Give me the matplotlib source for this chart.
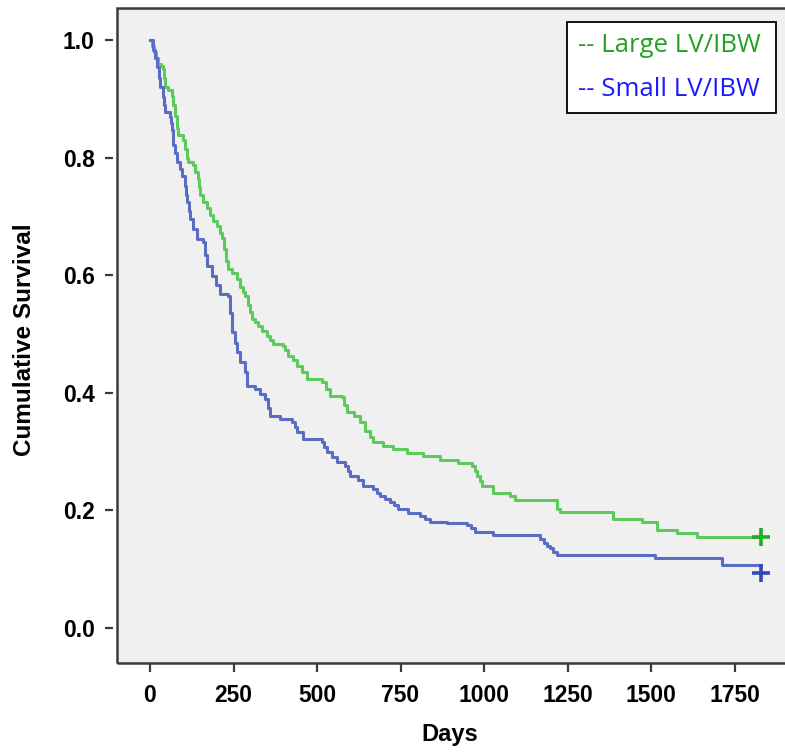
import matplotlib
matplotlib.use("Agg")
import matplotlib.pyplot as plt
from matplotlib.patches import Rectangle

# ---- data ----
large_days = [0, 5, 12, 18, 24, 32, 39, 42, 45, 55, 66, 69, 75, 80, 84, 99, 104, 110, 114,
              129, 135, 144, 147, 150, 160, 170, 180, 189, 201, 210, 216, 222, 228, 234,
              245, 260, 270, 278, 284, 292, 298, 305, 315, 323, 335, 350, 360, 368, 398,
              405, 413, 428, 440, 455, 470, 515, 527, 539, 575, 582, 590, 610, 629, 645,
              660, 668, 698, 728, 769, 817, 868, 922, 964, 972, 979, 987, 994, 1027, 1078,
              1093, 1219, 1228, 1386, 1473, 1518, 1578, 1638, 1829]
large_surv = [1.0, 0.99, 0.98, 0.97, 0.96, 0.955, 0.95, 0.935, 0.92, 0.915, 0.905, 0.89,
              0.87, 0.85, 0.838, 0.83, 0.815, 0.80, 0.793, 0.787, 0.775, 0.763, 0.75, 0.737,
              0.725, 0.714, 0.703, 0.692, 0.683, 0.672, 0.664, 0.645, 0.625, 0.61, 0.603,
              0.593, 0.58, 0.572, 0.564, 0.55, 0.537, 0.525, 0.52, 0.514, 0.505, 0.497,
              0.49, 0.483, 0.48, 0.472, 0.463, 0.455, 0.446, 0.435, 0.424, 0.419, 0.407,
              0.395, 0.393, 0.38, 0.368, 0.36, 0.351, 0.335, 0.325, 0.317, 0.31, 0.305,
              0.298, 0.292, 0.285, 0.280, 0.275, 0.267, 0.259, 0.25, 0.242, 0.229, 0.224,
              0.217, 0.203, 0.198, 0.185, 0.180, 0.166, 0.161, 0.154, 0.154]

small_days = [0, 9, 15, 21, 27, 30, 39, 42, 45, 60, 63, 66, 69, 75, 81, 90, 96, 105, 108,
              111, 116, 120, 130, 141, 159, 165, 171, 186, 198, 210, 234, 240, 246, 253,
              260, 270, 284, 290, 314, 330, 344, 352, 359, 389, 425, 433, 440, 458, 515,
              522, 530, 545, 560, 584, 592, 599, 623, 638, 668, 679, 689, 704, 719, 730,
              743, 772, 808, 822, 838, 889, 949, 960, 973, 1027, 1168, 1180, 1190, 1198,
              1208, 1219, 1512, 1713, 1829]
small_surv = [1.0, 0.983, 0.97, 0.954, 0.935, 0.92, 0.903, 0.89, 0.878, 0.869, 0.858,
              0.847, 0.822, 0.807, 0.792, 0.78, 0.768, 0.751, 0.737, 0.724, 0.71, 0.695,
              0.678, 0.661, 0.656, 0.635, 0.615, 0.598, 0.583, 0.568, 0.564, 0.535, 0.503,
              0.485, 0.469, 0.452, 0.436, 0.412, 0.407, 0.398, 0.39, 0.375, 0.361, 0.356,
              0.351, 0.342, 0.334, 0.322, 0.317, 0.308, 0.30, 0.29, 0.283, 0.276, 0.267,
              0.258, 0.251, 0.241, 0.237, 0.23, 0.224, 0.22, 0.215, 0.209, 0.203, 0.195,
              0.19, 0.185, 0.181, 0.178, 0.175, 0.17, 0.164, 0.158, 0.152, 0.144, 0.14,
              0.136, 0.13, 0.125, 0.119, 0.107, 0.107]

large_censor = ([1829], [0.154])
small_censor = ([1829], [0.093])

x_ticks = [0, 250, 500, 750, 1000, 1250, 1500, 1750]
y_ticks = [0.0, 0.2, 0.4, 0.6, 0.8, 1.0]
legend_labels = ["-- Large LV/IBW", "-- Small LV/IBW"]
legend_colors = ["#22a022", "#1a1aff"]

# ---- style ----
plt.rcParams.update({
    "font.family": ["Liberation Sans", "DejaVu Sans"],
    "font.weight": "bold",
    "xtick.labelsize": 16.5,
    "ytick.labelsize": 16.5,
    "xtick.major.size": 6,
    "ytick.major.size": 6,
    "xtick.major.width": 1.6,
    "ytick.major.width": 1.6,
    "xtick.major.pad": 8,
    "ytick.major.pad": 7,
    "xtick.color": "#3a3a3a",
    "ytick.color": "#3a3a3a",
    "xtick.labelcolor": "black",
    "ytick.labelcolor": "black",
})

# ---- figure ----
W, H = 785, 753
fig = plt.figure(figsize=(W / 100, H / 100), dpi=100)
fig.patch.set_facecolor("white")

left_px, right_px, top_px, bottom_px = 117, 795, 8, 663
ax = fig.add_axes([left_px / W, 1 - bottom_px / H,
                   (right_px - left_px) / W, (bottom_px - top_px) / H])
ax.set_facecolor("#f0f0f0")

green_line = "#5ccb5c"
blue_line = "#5a6cc4"

ax.plot(large_days, large_surv, drawstyle="steps-post", color=green_line, lw=2.2)
ax.plot(small_days, small_surv, drawstyle="steps-post", color=blue_line, lw=2.2)
ax.plot(*large_censor, marker="+", ms=13, mew=2.6, color="#1fae1f", ls="none")
ax.plot(*small_censor, marker="+", ms=13, mew=2.6, color="#3448b8", ls="none")

px_per_day = 0.334
y0_px, y1_px = 628, 40
ax.set_xlim(-(150 - left_px) / px_per_day, (right_px - 150) / px_per_day)
ppu = y0_px - y1_px
ax.set_ylim(-(bottom_px - y0_px) / ppu, 1 + (y1_px - top_px) / ppu)

# ticks offset from frame
ax.spines["left"].set_position(("outward", 3))
ax.spines["bottom"].set_position(("outward", 1))
for s in ["left", "bottom", "top", "right"]:
    ax.spines[s].set_visible(False)
ax.add_patch(Rectangle((0, 0), 1, 1, transform=ax.transAxes, fill=False,
                       ec="#3a3a3a", lw=1.8, clip_on=False, zorder=5))

ax.set_xticks(x_ticks)
ax.set_yticks(y_ticks)
ax.set_xticklabels([str(t) for t in x_ticks])
ax.set_yticklabels([f"{t:.1f}" for t in y_ticks])

ax.set_xlabel("Days", weight="bold", size=17)
ax.set_ylabel("Cumulative Survival", weight="bold", size=17.5)
ax.xaxis.set_label_coords((450 - left_px) / (right_px - left_px), -(734 - bottom_px) / (bottom_px - top_px))
ax.xaxis.label.set_va("center")
ax.yaxis.set_label_coords(-(117 - 25) / (right_px - left_px), 1 - (340 - top_px) / (bottom_px - top_px))
ax.yaxis.label.set_va("center")

# legend box (text-only legend, drawn in figure pixels)
fig.add_artist(Rectangle((567 / W, 1 - 113 / H), (776 - 567) / W, (113 - 22) / H,
                         transform=fig.transFigure, facecolor="white", edgecolor="black",
                         lw=1.3, zorder=10))
for lab, col, ypx in zip(legend_labels, legend_colors, [46, 89]):
    fig.text(578 / W, 1 - ypx / H, lab, color=col, family="Open Sans", weight="normal",
             size=18.5, va="center", ha="left", zorder=11)

fig.savefig("out.png", dpi=100)
